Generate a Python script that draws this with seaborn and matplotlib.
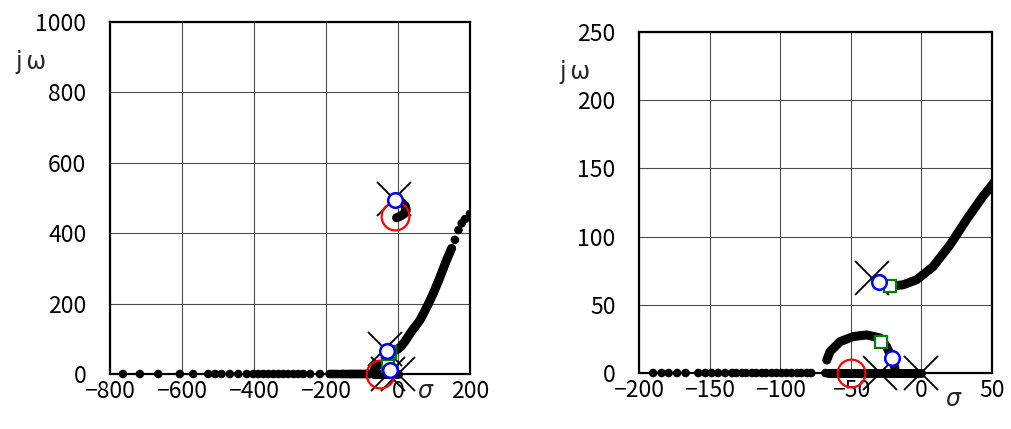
import matplotlib
matplotlib.use('Agg')
import matplotlib.pyplot as plt
import seaborn as sns
import pandas as pd
import numpy as np

# --- values (sigma, j omega) ---
# branch running along the negative real axis (dots)
real_dots_x = [-764, -717, -666, -606, -569, -527, -508, -490, -467, -444, -420,
               -402, -388, -374, -360, -346, -332, -319, -305, -290, -277, -263,
               -244, -217, -190, -184, -179, -173, -167, -158, -153, -148.5, -144,
               -139, -134, -131, -127, -124, -120, -117, -113, -110, -106, -102.5,
               -99, -95.5, -92, -88, -85, -81, -78, -68]
# dense real-axis segment (drawn as a thick line)
real_seg_x = [-66, 0]

# complex branch near the origin (arc)
arc_x = [-67, -64.7, -57.6, -48.4, -38.7, -29.3, -24.6, -21, -18.7]
arc_y = [9.5, 15.7, 23, 26.7, 27.9, 25.7, 19.3, 10.8, 3.7]

# branch leaving the pole at -35+j70
branch_x = [-29.8, -22.2, -12.8, -3.3, 8.3, 20.3, 32, 43.6, 49.8, 61, 80, 98, 117, 135, 149]
branch_y = [66.4, 63.5, 64.7, 68.4, 78, 94, 112.5, 129.6, 137.5, 153, 190, 229, 276, 324, 357]
branch_dots_x = [158, 168, 177, 186, 200]
branch_dots_y = [381, 409, 428, 440, 455]

# small hook near the pole at -10+j497
hook_x = [-7, -2, 12, 21, 23, 17, 6, -4]
hook_y = [494, 493, 486, 476, 465, 455, 448, 444]

# open-loop poles / zeros and two marked gains
pole_x = [0, -29, -35, -10]
pole_y = [0, 0, 70, 497]
zero_x = [-50, -7]
zero_y = [0, 448]
gain1_x = [-29.8, -21, -7]
gain1_y = [66.4, 10.8, 494]
gain2_x = [-22.2, -28.6]
gain2_y = [63.5, 23]

sns.set_theme(style='white')
plt.rcParams['font.family'] = ['Noto Sans CJK JP', 'DejaVu Sans']

fig = plt.figure(figsize=(10.11, 4.29), dpi=100)
ax1 = fig.add_axes([110 / 1011, 55 / 429, 360 / 1011, 352 / 429])
ax2 = fig.add_axes([639 / 1011, 56 / 429, 353 / 1011, 341 / 429])


def inside(xs, ys, xlim, ylim):
    pts = [(x, y) for x, y in zip(xs, ys)
           if xlim[0] <= x <= xlim[1] and ylim[0] <= y <= ylim[1]]
    return [p[0] for p in pts], [p[1] for p in pts]


def draw(ax, xlim, ylim, xticks, yticks):
    ax.set_xlim(xlim)
    ax.set_ylim(ylim)
    ax.set_xticks(xticks)
    ax.set_yticks(yticks)
    ax.grid(True, color='0.3', lw=0.8)
    ax.set_axisbelow(True)
    for s in ax.spines.values():
        s.set_linewidth(1.6)
        s.set_color('black')
    ax.tick_params(length=0, labelsize=16.5, colors='black')
    ax.tick_params(axis='y', pad=17)
    ax.tick_params(axis='x', pad=4)

    # locus
    rx, ry = inside(real_dots_x, [0] * len(real_dots_x), xlim, ylim)
    sns.scatterplot(x=rx, y=ry, ax=ax, color='black', s=38, edgecolor='none',
                    clip_on=False, zorder=3)
    ax.plot(real_seg_x, [0, 0], color='black', lw=6.5, solid_capstyle='round',
            clip_on=False, zorder=3)
    for xs, ys in [(arc_x, arc_y), (branch_x, branch_y), (hook_x, hook_y)]:
        df = pd.DataFrame({'s': xs, 'w': ys})
        sns.lineplot(data=df, x='s', y='w', sort=False, estimator=None, ax=ax,
                     color='black', lw=6.5, solid_capstyle='round', zorder=3)
    sns.scatterplot(x=branch_dots_x, y=branch_dots_y, ax=ax, color='black', s=38,
                    edgecolor='none', zorder=3)
    ax.set_xlabel('')
    ax.set_ylabel('')

    # markers
    px, py = inside(pole_x, pole_y, xlim, ylim)
    ax.plot(px, py, 'x', color='black', ms=25, mew=1.3, clip_on=False, zorder=4)
    zx, zy = inside(zero_x, zero_y, xlim, ylim)
    ax.plot(zx, zy, 'o', mfc='none', mec='red', ms=20, mew=1.6, clip_on=False, zorder=5)
    gx, gy = inside(gain2_x, gain2_y, xlim, ylim)
    ax.plot(gx, gy, 's', mfc='white', mec='green', ms=8.5, mew=1.6, clip_on=False, zorder=6)
    bx, by = inside(gain1_x, gain1_y, xlim, ylim)
    ax.plot(bx, by, 'o', mfc='white', mec='blue', ms=10.5, mew=1.8, clip_on=False, zorder=7)


draw(ax1, (-800, 200), (0, 1000), range(-800, 201, 200), range(0, 1001, 200))
draw(ax2, (-200, 50), (0, 250), range(-200, 51, 50), range(0, 251, 50))

fig.text(31 / 1011, 1 - 62 / 429, 'j\u2009\u03c9', fontsize=17, ha='center', va='center',
         family=['DejaVu Sans'])
fig.text(575 / 1011, 1 - 72 / 429, 'j\u2009\u03c9', fontsize=17, ha='center', va='center',
         family=['DejaVu Sans'])
fig.text(425 / 1011, 1 - 391 / 429, '\u03c3', fontsize=17, ha='center', va='center',
         family='DejaVu Sans', style='italic')
fig.text(953 / 1011, 1 - 399 / 429, '\u03c3', fontsize=17, ha='center', va='center',
         family='DejaVu Sans', style='italic')

fig.savefig('out.png', dpi=100)
